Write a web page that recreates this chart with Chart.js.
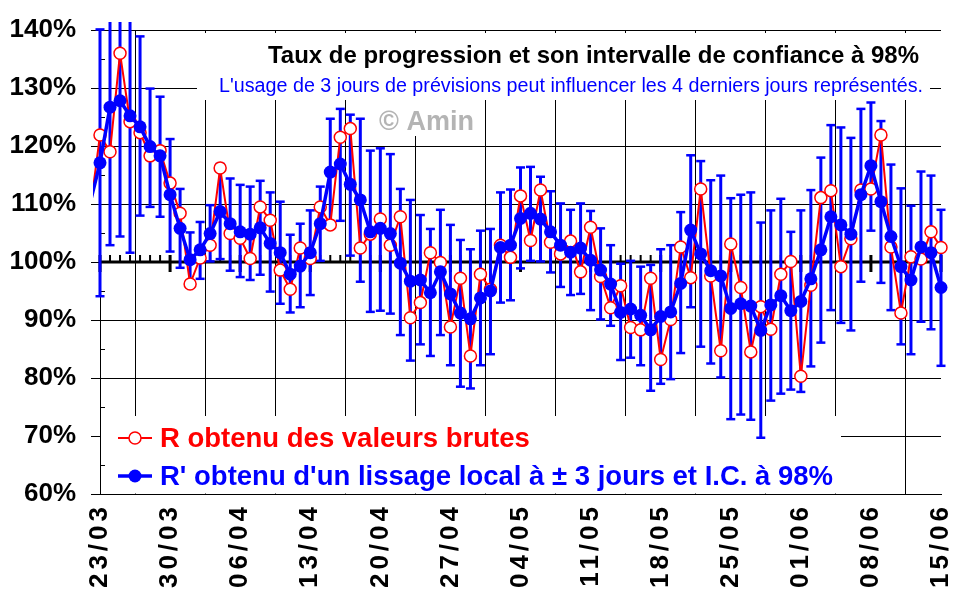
<!DOCTYPE html>
<html>
<head>
<meta charset="utf-8">
<script src="https://cdn.jsdelivr.net/npm/chart.js@4.4.0/dist/chart.umd.min.js"></script>
<style>
  html, body { margin: 0; padding: 0; background: #fff; }
  #wrap { width: 970px; height: 604px; }
</style>
</head>
<body>
<div id="wrap"><canvas id="chart" width="970" height="604"></canvas></div>
<script>
// Week labels on the x axis (one every 7 days, 23/03 = day 0)
const tickLabels = ['23/03', '30/03', '06/04', '13/04', '20/04', '27/04', '04/05',
    '11/05', '18/05', '25/05', '01/06', '08/06', '15/06'];

// Daily values from 22/03 to 15/06 (in %)
const rawR = [
    108.6, 121.9, 119.0, 136.0, 124.2, 122.3, 118.3, 119.2, 113.6, 108.4,
    96.2, 100.7, 102.9, 116.2, 104.9, 104.1, 100.6, 109.5, 107.2, 98.6,
    95.3, 102.4, 100.6, 109.5, 106.4, 121.5, 123.0, 102.4, 104.8, 107.4,
    102.9, 107.8, 90.4, 93.0, 101.6, 99.9, 88.8, 97.2, 83.8, 97.9,
    95.3, 102.9, 100.8, 111.4, 103.7, 112.4, 103.4, 101.4, 103.6, 98.3,
    106.0, 97.5, 92.1, 95.9, 88.7, 88.3, 97.2, 83.2, 90.1, 102.6,
    97.3, 112.6, 97.6, 84.7, 103.1, 95.6, 84.5, 92.3, 88.4, 97.9,
    100.1, 80.3, 96.0, 111.1, 112.3, 99.2, 104.0, 112.4, 112.6, 121.9,
    102.6, 91.2, 100.9, 100.5, 105.2, 102.5
];

const smoothR = [
    110.1, 117.1, 126.7, 127.8, 125.2, 123.3, 119.9, 118.3, 111.6, 105.8,
    100.4, 102.1, 104.9, 108.7, 106.6, 105.2, 104.8, 105.9, 103.2, 101.6,
    97.9, 99.3, 101.6, 106.6, 115.5, 116.9, 113.4, 110.7, 105.2, 105.8,
    104.9, 99.8, 96.7, 96.9, 94.7, 98.3, 94.5, 91.2, 90.2, 93.8,
    95.0, 102.5, 102.9, 107.5, 108.4, 107.4, 105.2, 102.9, 101.7, 102.4,
    100.3, 98.6, 96.2, 91.3, 91.9, 90.8, 88.3, 90.6, 91.4, 96.3,
    105.5, 101.4, 98.5, 97.6, 92.0, 92.8, 92.4, 88.2, 92.6, 94.2,
    91.6, 93.2, 97.1, 102.1, 107.8, 106.4, 104.8, 111.6, 116.6, 110.4,
    104.4, 99.2, 96.9, 102.6, 101.6, 95.6
];

const ciHigh = [
    134.1, 140.1, 150.5, 151.2, 148.8, 138.9, 129.9, 128.5, 121.2, 112.6,
    105.1, 106.9, 109.8, 116.9, 114.4, 113.3, 113.0, 114.0, 112.0, 110.4,
    104.7, 106.6, 108.9, 113.0, 124.7, 126.4, 125.4, 124.7, 119.2, 119.6,
    118.6, 112.6, 110.7, 108.1, 105.7, 109.0, 106.4, 103.8, 102.2, 105.4,
    105.7, 112.0, 112.5, 116.3, 116.4, 114.7, 112.2, 110.1, 109.0, 110.1,
    108.8, 105.8, 102.9, 99.7, 100.2, 99.2, 99.5, 102.2, 102.9, 108.6,
    118.4, 117.4, 114.1, 114.9, 111.0, 111.6, 112.0, 106.8, 108.9, 110.9,
    105.2, 108.9, 112.4, 118.0, 123.6, 123.2, 121.4, 126.4, 127.5, 124.3,
    116.8, 112.7, 109.7, 115.6, 114.9, 109.0
];

const ciLow = [
    87.4, 94.1, 102.9, 104.4, 101.6, 108.0, 109.5, 107.8, 101.8, 99.0,
    95.8, 97.1, 100.1, 100.5, 98.5, 97.4, 96.9, 97.8, 94.9, 92.8,
    91.3, 92.2, 94.3, 100.2, 106.3, 107.1, 101.1, 96.6, 91.4, 91.6,
    91.1, 87.4, 83.0, 85.8, 83.8, 87.4, 82.2, 78.5, 78.2, 82.2,
    84.1, 93.0, 93.4, 98.9, 100.2, 100.1, 98.2, 95.7, 94.3, 94.5,
    91.7, 90.1, 89.0, 83.1, 83.5, 82.2, 77.8, 79.0, 79.8, 84.3,
    92.2, 85.4, 82.5, 80.1, 72.9, 73.7, 72.8, 69.7, 76.1, 77.3,
    78.0, 77.6, 82.0, 86.1, 91.7, 89.5, 88.2, 96.6, 105.4, 96.4,
    91.7, 85.8, 84.1, 89.7, 88.4, 82.1
];

const RED = '#ff0000';
const BLUE = '#0000ff';
const FONT = "'Liberation Sans', Arial, sans-serif";

// day index: first value is the day before 23/03
const days = rawR.map((_, i) => i - 1);
const clip = { left: 7, top: 8, right: 10, bottom: 0 };
const hideFirst = (r) => (c) => c.dataIndex === 0 ? 0 : r;

// boxes, texts, thick 100% axis and minor ticks
const decorations = {
    id: 'decorations',
    beforeDraw(chart) {
        const ctx = chart.ctx;
        ctx.save();
        ctx.fillStyle = '#fff';
        ctx.fillRect(0, 0, chart.width, chart.height);
        ctx.restore();
    },
    beforeDatasetsDraw(chart) {
        const ctx = chart.ctx;
        const area = chart.chartArea;
        const xs = chart.scales.x;
        const ys = chart.scales.y;
        ctx.save();

        // white boxes behind title, watermark and legend
        ctx.fillStyle = '#fff';
        ctx.fillRect(197, 33, 733, 67);
        ctx.fillRect(376, 100, 106, 36);
        ctx.fillRect(area.left + 1, 416, 740, area.bottom - 416 - 0.5);

        // titles
        ctx.textAlign = 'right';
        ctx.textBaseline = 'alphabetic';
        ctx.fillStyle = '#000';
        ctx.font = 'bold 24px ' + FONT;
        ctx.fillText('Taux de progression et son intervalle de confiance à 98%', 919, 63, 651);
        ctx.fillStyle = BLUE;
        ctx.font = '20px ' + FONT;
        ctx.fillText("L'usage de 3 jours de prévisions peut influencer les 4 derniers jours représentés.", 923, 92, 704);

        ctx.textAlign = 'left';
        ctx.fillStyle = '#b4b4b4';
        ctx.font = 'bold 27px ' + FONT;
        ctx.fillText('© Amin', 379, 130);

        // legend
        ctx.lineWidth = 2;
        ctx.strokeStyle = RED;
        ctx.beginPath();
        ctx.moveTo(118, 438);
        ctx.lineTo(152, 438);
        ctx.stroke();
        ctx.beginPath();
        ctx.arc(135, 438, 6, 0, Math.PI * 2);
        ctx.fillStyle = '#fff';
        ctx.fill();
        ctx.lineWidth = 1.5;
        ctx.stroke();

        ctx.lineWidth = 3.5;
        ctx.strokeStyle = BLUE;
        ctx.beginPath();
        ctx.moveTo(118, 476);
        ctx.lineTo(152, 476);
        ctx.stroke();
        ctx.beginPath();
        ctx.arc(135, 476, 6.5, 0, Math.PI * 2);
        ctx.fillStyle = BLUE;
        ctx.fill();

        ctx.font = 'bold 27.5px ' + FONT;
        ctx.fillStyle = RED;
        ctx.fillText('R obtenu des valeurs brutes', 160, 447, 370);
        ctx.fillStyle = BLUE;
        ctx.fillText("R' obtenu d'un lissage local à ± 3 jours et I.C. à 98%", 160, 485, 676);

        // thick axis at 100% with daily ticks
        const y0 = ys.getPixelForValue(100);
        ctx.fillStyle = '#000';
        ctx.fillRect(area.left, y0 - 1.5, area.right - area.left, 3);
        for (let d = 0; d <= 84; d++) {
            const x = xs.getPixelForValue(d);
            if (d % 7 === 0) {
                ctx.fillRect(x - 1.5, y0 - 7, 3, 17);
            } else {
                ctx.fillRect(x - 1, y0 - 7, 2, 7);
            }
        }

        // minor ticks on the y axis
        ctx.strokeStyle = '#000';
        ctx.lineWidth = 1;
        for (let v = 65; v < 140; v += 10) {
            const y = Math.round(ys.getPixelForValue(v)) + 0.5;
            ctx.beginPath();
            ctx.moveTo(area.left, y);
            ctx.lineTo(area.left + 5, y);
            ctx.stroke();
        }
        ctx.restore();
    },
    afterDatasetsDraw(chart) {
        // spacing for the rotated date labels (drawn in a later layer)
        chart.ctx.letterSpacing = '4px';
    },
    afterDraw(chart) {
        chart.ctx.letterSpacing = '0px';
    }
};

new Chart(document.getElementById('chart'), {
    type: 'line',
    data: {
        datasets: [
            {
                label: 'R obtenu des valeurs brutes',
                data: days.map((d, i) => ({ x: d, y: rawR[i] })),
                borderColor: RED,
                borderWidth: 2,
                pointRadius: hideFirst(6),
                pointBackgroundColor: '#fff',
                pointBorderColor: RED,
                pointBorderWidth: 1.5,
                tension: 0,
                order: 2,
                clip: clip
            },
            {
                label: "R' obtenu d'un lissage local",
                data: days.map((d, i) => ({ x: d, y: smoothR[i] })),
                borderColor: BLUE,
                borderWidth: 3.5,
                pointRadius: hideFirst(6.5),
                pointBackgroundColor: BLUE,
                pointBorderColor: BLUE,
                pointBorderWidth: 0,
                tension: 0,
                order: 1,
                clip: clip
            },
            {
                type: 'bar',
                label: 'I.C. 98%',
                data: days.map((d, i) => ({ x: d, y: [ciLow[i], ciHigh[i]] })),
                backgroundColor: BLUE,
                borderWidth: 0,
                barThickness: 3,
                maxBarThickness: 3,
                barPercentage: 0.3,
                categoryPercentage: 1,
                inflateAmount: 0,
                grouped: false,
                order: 3,
                clip: clip
            },
            {
                label: 'I.C. bas',
                data: days.map((d, i) => ({ x: d, y: ciLow[i] })),
                showLine: false,
                pointStyle: 'line',
                pointRadius: 4.5,
                pointBorderWidth: 2.5,
                pointBorderColor: BLUE,
                order: 3,
                clip: clip
            },
            {
                label: 'I.C. haut',
                data: days.map((d, i) => ({ x: d, y: ciHigh[i] })),
                showLine: false,
                pointStyle: 'line',
                pointRadius: 4.5,
                pointBorderWidth: 2.5,
                pointBorderColor: BLUE,
                order: 3,
                clip: clip
            }
        ]
    },
    options: {
        responsive: false,
        animation: false,
        devicePixelRatio: 1,
        layout: { padding: { left: 0, top: 30, right: 29, bottom: 0 } },
        plugins: {
            legend: { display: false },
            tooltip: { enabled: false }
        },
        scales: {
            x: {
                type: 'linear',
                min: 0,
                max: 84,
                offset: false,
                afterBuildTicks: (s) => {
                    s.ticks = tickLabels.map((_, i) => ({ value: i * 7 }));
                },
                afterFit: (s) => {
                    s.height = 110;
                    s.paddingLeft = 0;
                    s.paddingRight = 0;
                },
                ticks: {
                    callback: (v) => tickLabels[v / 7],
                    autoSkip: false,
                    minRotation: 90,
                    maxRotation: 90,
                    padding: 9,
                    color: '#000',
                    font: { family: FONT, size: 26, weight: 'bold' },
                    z: 1
                },
                grid: { color: '#000', lineWidth: 1, drawTicks: false },
                border: { color: '#000', width: 1 }
            },
            y: {
                min: 60,
                max: 140,
                afterFit: (s) => {
                    s.width = 100;
                    s.paddingTop = 0;
                    s.paddingBottom = 0;
                },
                ticks: {
                    stepSize: 10,
                    callback: (v) => v + '%',
                    padding: 15,
                    color: '#000',
                    font: { family: FONT, size: 26, weight: 'bold' }
                },
                grid: { color: '#000', lineWidth: 1, tickLength: 9 },
                border: { color: '#000', width: 1 }
            }
        }
    },
    plugins: [decorations]
});
</script>
</body>
</html>
